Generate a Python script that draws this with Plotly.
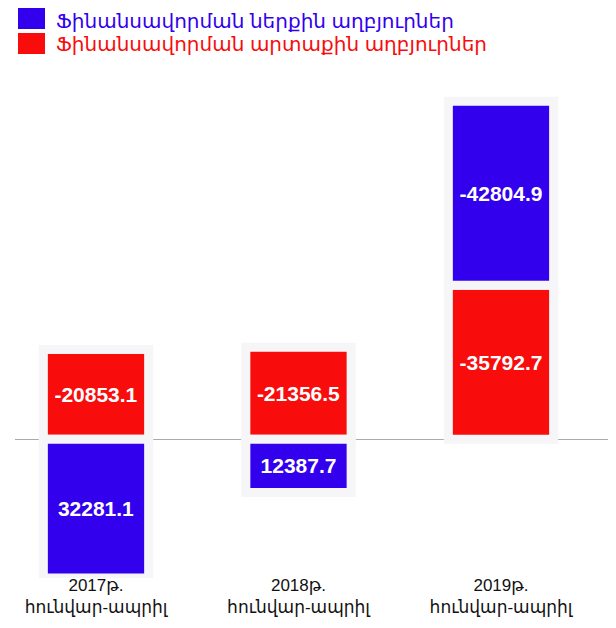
import plotly.graph_objects as go

categories = ["2017թ.<br>հունվար-ապրիլ", "2018թ.<br>հունվար-ապրիլ", "2019թ.<br>հունվար-ապրիլ"]
internal = [32281.1, 12387.7, -42804.9]
external = [-20853.1, -21356.5, -35792.7]
name_internal = "Ֆինանսավորման ներքին աղբյուրներ"
name_external = "Ֆինանսավորման արտաքին աղբյուրներ"

BLUE = "#3300ee"
RED = "#f80c0c"
FONT = "Liberation Sans, DejaVu Sans, Arial, sans-serif"

# page body has an 8px margin -> work in screen coords and convert
OFF = 8
PLOT_L, PLOT_R, PLOT_T, PLOT_B = 15, 616, 78, 578
W, H = 616 - OFF, 628 - OFF

fig = go.Figure()
for vals, color, nm in [(external, RED, name_external), (internal, BLUE, name_internal)]:
    fig.add_trace(go.Bar(
        x=categories, y=vals, name=nm,
        marker=dict(color=color, line=dict(color="#f6f6f9", width=9)),
        text=[f"{v:.1f}" for v in vals], textposition="inside",
        insidetextanchor="middle", textangle=0, constraintext="none",
        textfont=dict(color="white", size=21, family="Liberation Sans, Arial", weight="bold"),
        showlegend=False,
    ))

def px_x(x):
    return (x - PLOT_L) / (PLOT_R - PLOT_L)

def px_y(y):
    return (PLOT_B - y) / (PLOT_B - PLOT_T)

# legend drawn manually (large swatches)
legend_items = [(name_internal, BLUE, 8, 29, 21), (name_external, RED, 33, 54, 44)]
for label, color, top, bot, yc in legend_items:
    fig.add_shape(type="rect", xref="paper", yref="paper",
                  x0=px_x(18), x1=px_x(45), y0=px_y(bot), y1=px_y(top),
                  fillcolor=color, line=dict(width=0), layer="above")
    fig.add_annotation(xref="paper", yref="paper", x=px_x(54), y=px_y(yc),
                       text=label, showarrow=False, xanchor="left", yanchor="middle",
                       font=dict(color=color, size=20, family=FONT))

fig.update_layout(
    barmode="relative",
    bargap=0.48,
    width=W, height=H,
    margin=dict(l=PLOT_L - OFF, r=(616 - OFF) - (PLOT_R - OFF), t=PLOT_T - OFF,
                b=(628 - OFF) - (PLOT_B - OFF)),
    paper_bgcolor="white", plot_bgcolor="rgba(0,0,0,0)",
    showlegend=False,
    font=dict(family=FONT),
    xaxis=dict(range=[-0.4, 2.568], showgrid=False, showline=False, ticks="",
               ticklabelstandoff=-5,
               tickfont=dict(size=17, color="#111111", family=FONT)),
    yaxis=dict(range=[32300, -84000], showgrid=False, showticklabels=False,
               zeroline=True, zerolinecolor="#aaaaaa", zerolinewidth=1, showline=False),
)

fig.write_html("out.html")
